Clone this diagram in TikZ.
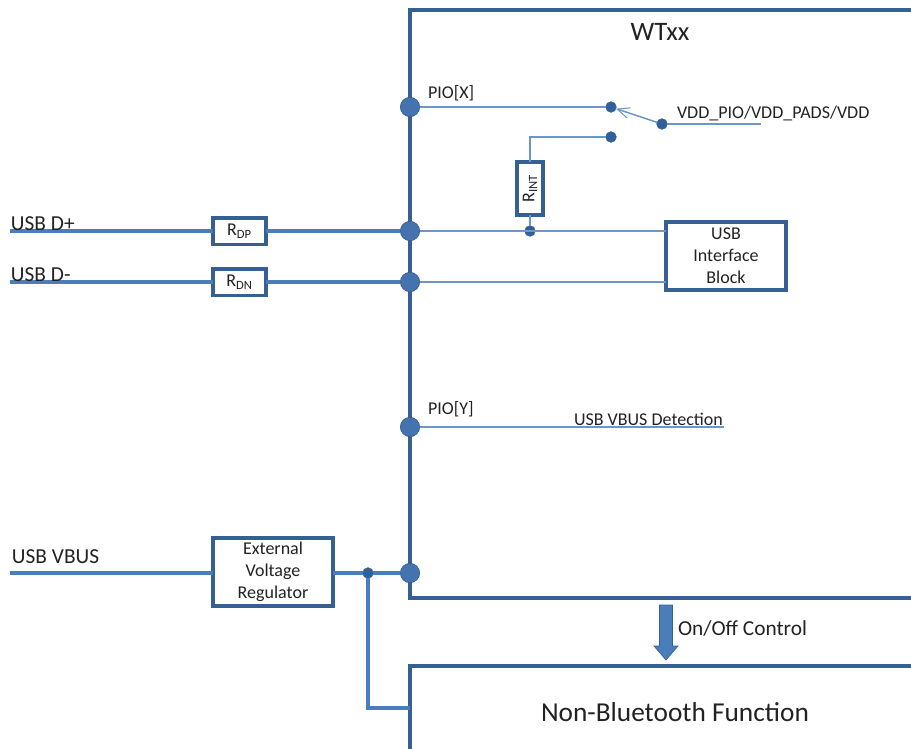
\documentclass[tikz,border=0pt]{standalone}
\usepackage{fontspec}
\setmainfont{Carlito}
\usetikzlibrary{arrows.meta}
\definecolor{boxc}{HTML}{376092}
\definecolor{wirec}{HTML}{4A7EBB}
\definecolor{thinc}{HTML}{6A96C8}
\definecolor{padc}{HTML}{4573B0}
\definecolor{dotc}{HTML}{2F6099}
\definecolor{txt}{HTML}{222222}
\tikzset{
  x=0.75pt,y=-0.75pt,
  every node/.style={text=txt,inner sep=0pt,outer sep=0pt},
  frameline/.style={draw=boxc,line width=2.4pt},
  wire/.style={draw=wirec,line width=2.6pt},
  thinwire/.style={draw=thinc,line width=1.1pt},
  blockbox/.style={draw=boxc,line width=2.5pt,fill=white,align=center,anchor=north west,font=\fontsize{13.5}{16.5}\selectfont},
  pad/.style={circle,fill=padc,draw=boxc,line width=0.5pt,minimum size=14.5pt},
  dotnode/.style={circle,fill=dotc,draw=boxc,line width=0.4pt,minimum size=8pt},
  small/.style={font=\fontsize{13.5}{15}\selectfont},
  sig/.style={font=\fontsize{16}{18}\selectfont},
}
\begin{document}
\begin{tikzpicture}
\useasboundingbox (0,0) rectangle (911,749);
% anchors
\coordinate (wtTR) at (911,10);
\coordinate (wtTL) at (410,10);
\coordinate (wtBL) at (410,598);
\coordinate (wtBR) at (911,598);
\coordinate (nbTR) at (911,666);
\coordinate (nbTL) at (410,666);
\coordinate (nbBL) at (410,749);
\coordinate (dpin) at (10,231);
\coordinate (dnin) at (10,282);
\coordinate (vbin) at (10,573);
\coordinate (vddend) at (761,124);
\coordinate (detend) at (724,427);
\coordinate (nbleft) at (410,708);
% frames
\draw[frameline] (wtTR) -- (wtTL) -- (wtBL) -- (wtBR);
\draw[frameline] (nbTR) -- (nbTL) -- (nbBL);
% pads and dots
\node[pad] (padx) at (410,107) {};
\node[pad] (padp) at (410,231) {};
\node[pad] (padn) at (410,282) {};
\node[pad] (pady) at (410,427) {};
\node[pad] (padv) at (410,573) {};
\node[dotnode] (swa) at (611,107) {};
\node[dotnode] (swb) at (611,137) {};
\node[dotnode] (swc) at (662,124) {};
\node[dotnode] (jint) at (530,231) {};
\node[dotnode] (jreg) at (368,573) {};
% boxes
\node[blockbox,minimum width=39.75pt,minimum height=20pt] (rdp) at (213,218) {R\textsubscript{DP}};
\node[blockbox,minimum width=39.75pt,minimum height=20pt] (rdn) at (213,269) {R\textsubscript{DN}};
\node[blockbox,minimum width=90pt,minimum height=51pt] (ext) at (213,538) {External\\Voltage\\Regulator};
\node[blockbox,minimum width=90pt,minimum height=51pt] (usb) at (666,222) {USB\\Interface\\Block};
\node[draw=boxc,line width=2.5pt,fill=white,minimum width=19.5pt,minimum height=39.75pt,font=\fontsize{13.5}{15}\selectfont] (rint) at (530,188.5) {\rotatebox{90}{R\textsubscript{INT}}};
% wires
\draw[wire] (dpin) -- (rdp.west |- dpin);
\draw[wire] (rdp.east |- dpin) -- (padp);
\draw[wire] (dnin) -- (rdn.west |- dnin);
\draw[wire] (rdn.east |- dnin) -- (padn);
\draw[wire] (vbin) -- (ext.west |- vbin);
\draw[wire] (ext.east |- vbin) -- (jreg) -- (padv);
\draw[wire] (jreg) |- (nbleft);
\draw[thinwire] (padx) -- (swa);
\draw[thinwire] (swc) -- (vddend);
\draw[thinwire,-{Straight Barb[length=9pt,width=8pt,line width=0.8pt]}] (swc) -- (swa);
\draw[thinwire] (rint.north) |- (swb);
\draw[thinwire] (rint.south) -- (jint);
\draw[thinwire] (padp) -- (usb.west |- padp);
\draw[thinwire] (padn) -- (usb.west |- padn);
\draw[thinwire] (pady) -- (detend);
% control arrow
\draw[draw=boxc,fill=wirec,line width=0.5pt] (659.5,605) -- (672.5,605) -- (672.5,646) -- (678,646) -- (666,660) -- (654,646) -- (659.5,646) -- cycle;
% labels
\node[font=\fontsize{20}{22}\selectfont,anchor=center] (wt) at (660,32) {WTxx};
\node[sig,anchor=south west] (ldp) at (11,231) {USB D+};
\node[sig,anchor=south west] (ldn) at (11,282) {USB D-};
\node[sig,anchor=south west] (lvb) at (12,564) {USB VBUS};
\node[small,anchor=west] (lx) at (428,93) {PIO[X]};
\node[small,anchor=west] (ly) at (428,409) {PIO[Y]};
\node[small,anchor=west] (lvdd) at (677,113) {VDD\_PIO/VDD\_PADS/VDD};
\node[small,anchor=west] (ldet) at (574,419) {USB VBUS Detection};
\node[font=\fontsize{16}{18}\selectfont,anchor=west] (lctl) at (678,629) {On/Off Control};
\node[font=\fontsize{20.5}{23}\selectfont,anchor=center] (lnb) at (675,712) {Non-Bluetooth Function};
\end{tikzpicture}
\end{document}
